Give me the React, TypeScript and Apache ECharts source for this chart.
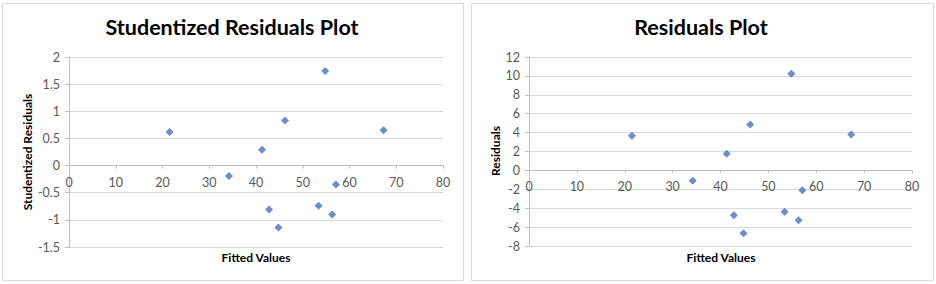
import React, { useEffect, useRef } from "react";
import * as echarts from "echarts";

const fittedValues = [21.5, 34.2, 41.3, 42.8, 44.8, 46.2, 53.4, 54.8, 56.3, 57.1, 67.3];
const studentizedResiduals = [0.62, -0.19, 0.29, -0.81, -1.14, 0.83, -0.74, 1.74, -0.9, -0.35, 0.65];
const residuals = [3.66, -1.09, 1.76, -4.75, -6.66, 4.86, -4.37, 10.24, -5.28, -2.11, 3.8];

const leftYRange = [-1.5, 2, 0.5];
const rightYRange = [-8, 12, 2];

const leftTitle = "Studentized Residuals Plot";
const rightTitle = "Residuals Plot";
const xAxisTitle = "Fitted Values";
const leftYTitle = "Studentized Residuals";
const rightYTitle = "Residuals";

const FONT = "Lato, 'Open Sans', sans-serif";
const GRID_COLOR = "#d9d9d9";
const AXIS_COLOR = "#bfbfbf";
const LABEL_COLOR = "#595959";
const MARK_COLOR = "#4472c4";

export default function App() {
  const ref = useRef<HTMLDivElement>(null);
  useEffect(() => {
    if (!ref.current) return;
    const chart = echarts.init(ref.current, null, { renderer: "svg" });
    const xAxisBase = {
      type: "value" as const,
      min: 0,
      max: 80,
      interval: 10,
      axisLine: { show: true, onZero: false, lineStyle: { color: AXIS_COLOR } },
      axisTick: { show: true, length: 3, lineStyle: { color: AXIS_COLOR } },
      axisLabel: { color: LABEL_COLOR, fontSize: 12.5, fontFamily: FONT, margin: 10 },
      splitLine: { show: false },
    };
    const yAxisBase = {
      type: "value" as const,
      axisLine: { show: true, onZero: false, lineStyle: { color: AXIS_COLOR } },
      axisTick: { show: true, length: 4, lineStyle: { color: AXIS_COLOR } },
      axisLabel: { color: LABEL_COLOR, fontSize: 12.5, fontFamily: FONT, margin: 9 },
      splitLine: { show: true, lineStyle: { color: GRID_COLOR } },
    };
    const textStyle = (text: string, size: number) => ({
      text,
      fontFamily: FONT,
      fontSize: size,
      fontWeight: "bold",
      fill: "#000000",
      textAlign: "center",
      textVerticalAlign: "middle",
    });
    chart.setOption({
      animation: false,
      backgroundColor: "#ffffff",
      grid: [
        { left: 69, right: 936 - 443, top: 57, bottom: 284 - 247 },
        { left: 529, right: 936 - 912, top: 57, bottom: 284 - 246 },
      ],
      xAxis: [
        { ...xAxisBase, gridIndex: 0 },
        { ...xAxisBase, gridIndex: 1 },
      ],
      yAxis: [
        {
          ...yAxisBase,
          gridIndex: 0,
          min: leftYRange[0],
          max: leftYRange[1],
          interval: leftYRange[2],
        },
        {
          ...yAxisBase,
          gridIndex: 1,
          min: rightYRange[0],
          max: rightYRange[1],
          interval: rightYRange[2],
        },
      ],
      series: [
        {
          type: "scatter",
          xAxisIndex: 0,
          yAxisIndex: 0,
          symbol: "diamond",
          symbolSize: [8, 8],
          itemStyle: { color: MARK_COLOR },
          data: fittedValues.map((x, i) => [x, studentizedResiduals[i]]),
        },
        {
          type: "scatter",
          xAxisIndex: 1,
          yAxisIndex: 1,
          symbol: "diamond",
          symbolSize: [8, 8],
          itemStyle: { color: MARK_COLOR },
          data: fittedValues.map((x, i) => [x, residuals[i]]),
        },
      ],
      graphic: [
        {
          type: "rect",
          shape: { x: 2.5, y: 3.5, width: 461, height: 277 },
          style: { fill: "none", stroke: GRID_COLOR, lineWidth: 1 },
        },
        {
          type: "rect",
          shape: { x: 471.5, y: 3.5, width: 462, height: 277 },
          style: { fill: "none", stroke: GRID_COLOR, lineWidth: 1 },
        },
        { type: "text", x: 232, y: 27, style: textStyle(leftTitle, 21.5) },
        { type: "text", x: 701, y: 27, style: textStyle(rightTitle, 21.5) },
        { type: "text", x: 256, y: 257, style: textStyle(xAxisTitle, 12) },
        { type: "text", x: 721, y: 257, style: textStyle(xAxisTitle, 12) },
        { type: "text", x: 27, y: 152, rotation: Math.PI / 2, style: textStyle(leftYTitle, 12) },
        { type: "text", x: 495, y: 151, rotation: Math.PI / 2, style: textStyle(rightYTitle, 12) },
      ],
    });
    // Move each x axis up to the y = 0 line, using the library's own y scale.
    const offsetFor = (yIndex: number, minVal: number) => {
      const zero = chart.convertToPixel({ yAxisIndex: yIndex } as any, 0) as number;
      const bottom = chart.convertToPixel({ yAxisIndex: yIndex } as any, minVal) as number;
      return zero - bottom;
    };
    chart.setOption({
      xAxis: [
        { offset: offsetFor(0, leftYRange[0]) },
        { offset: offsetFor(1, rightYRange[0]) },
      ],
    });
    return () => chart.dispose();
  }, []);
  return (
    <div
      ref={ref}
      style={{ position: "fixed", left: 0, top: 0, width: 936, height: 284, background: "#fff" }}
    />
  );
}
